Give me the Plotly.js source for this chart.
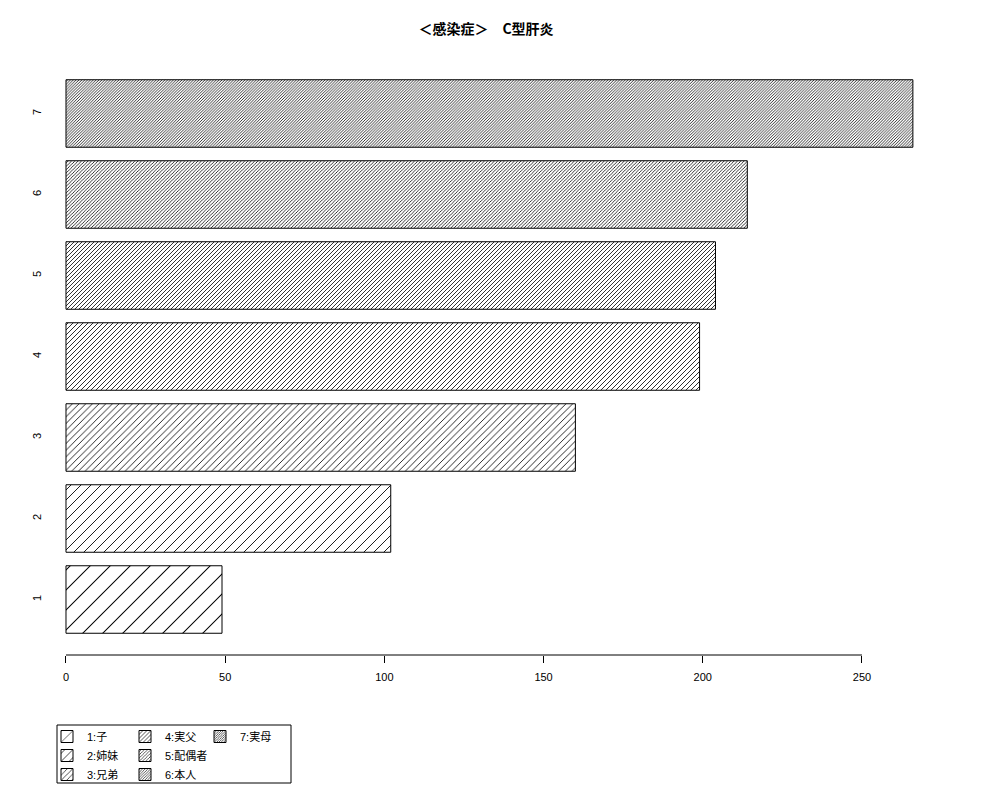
<!DOCTYPE html>
<html>
<head>
<meta charset="utf-8">
<script src="https://cdn.plot.ly/plotly-3.0.1.min.js"></script>
<style>
  body { margin: 0; background: #fff; }
  #chart { width: 1000px; height: 800px; }
</style>
</head>
<body>
<div id="chart"></div>
<script>
// values
var categories = ['1', '2', '3', '4', '5', '6', '7']
var counts = [49, 102, 160, 199, 204, 214, 266]
var legendLabels = ['1:子', '2:姉妹', '3:兄弟', '4:実父', '5:配偶者', '6:本人', '7:実母']
var xTicks = [0, 50, 100, 150, 200, 250]

// horizontal hatch spacing in px per bar (denser as the category grows)
var hatchSpacing = [20, 10, 6.67, 5, 4, 3.33, 2.86]
// which legend column each entry goes in
var legendOf = ['legend', 'legend', 'legend', 'legend2', 'legend2', 'legend2', 'legend3']

var font = '"Liberation Sans", "Noto Sans CJK JP", Arial, sans-serif'

var traces = categories.map(function (cat, i) {
  return {
    type: 'bar',
    orientation: 'h',
    y: [cat],
    x: [counts[i]],
    name: legendLabels[i],
    legend: legendOf[i],
    hoverinfo: 'x+y',
    marker: {
      color: 'white',
      line: {color: 'black', width: 1},
      pattern: {
        shape: '/',
        // plotly's tile is size*sqrt(2) wide; solidity ~ ink coverage
        size: hatchSpacing[i] / Math.SQRT2,
        solidity: 1.05 / hatchSpacing[i] + 0.02,
        fgcolor: 'black',
        bgcolor: 'white',
        fillmode: 'replace'
      }
    }
  }
})

var legendBase = {
  orientation: 'v',
  xref: 'container',
  yref: 'container',
  xanchor: 'left',
  yanchor: 'top',
  y: 1 - 722 / 800,
  bgcolor: 'rgba(0,0,0,0)',
  borderwidth: 0,
  font: {family: font, size: 11, color: 'black'},
  traceorder: 'normal',
  itemclick: false
}

var layout = {
  width: 1000,
  height: 800,
  paper_bgcolor: 'white',
  plot_bgcolor: 'white',
  margin: {l: 58, r: 40, t: 58, b: 145, autoexpand: false},
  barmode: 'overlay',
  bargap: 1 / 6,
  font: {family: font, size: 11, color: 'black'},
  title: {
    text: '<b>＜感染症＞　C型肝炎</b>',
    font: {family: '"Noto Sans CJK JP", sans-serif', size: 14, color: 'black'},
    xref: 'container',
    yref: 'container',
    x: 0.486,
    y: 1 - 29 / 800,
    xanchor: 'center',
    yanchor: 'middle'
  },
  xaxis: {
    range: [-2.51, 280.8],
    tickvals: xTicks,
    ticktext: xTicks.map(String),
    ticks: 'outside',
    ticklen: 7,
    tickcolor: 'black',
    tickwidth: 1,
    ticklabelstandoff: 5,
    showline: false,
    showgrid: false,
    zeroline: false,
    tickfont: {family: font, size: 11, color: 'black'}
  },
  yaxis: {
    type: 'category',
    categoryorder: 'array',
    categoryarray: categories,
    range: [-0.685, 6.685],
    tickangle: -90,
    ticks: '',
    ticklabelstandoff: 14,
    showline: false,
    showgrid: false,
    zeroline: false,
    tickfont: {family: font, size: 11, color: 'black'}
  },
  showlegend: true,
  legend: Object.assign({}, legendBase, {x: 47 / 1000}),
  legend2: Object.assign({}, legendBase, {x: 125 / 1000}),
  legend3: Object.assign({}, legendBase, {x: 200 / 1000}),
  shapes: [
    // axis line only between the first and last tick, like R's axis()
    {
      type: 'line', xref: 'x', yref: 'paper',
      x0: xTicks[0], x1: xTicks[xTicks.length - 1], y0: 0, y1: 0,
      line: {color: 'black', width: 1}
    },
    // legend frame
    {
      type: 'rect', xref: 'paper', yref: 'paper',
      x0: (57 - 58) / 902, x1: (291 - 58) / 902,
      y0: -(783 - 655) / 597, y1: -(725 - 655) / 597,
      line: {color: 'black', width: 1}
    }
  ]
}

Plotly.newPlot('chart', traces, layout, {displayModeBar: false, staticPlot: true})
</script>
</body>
</html>
